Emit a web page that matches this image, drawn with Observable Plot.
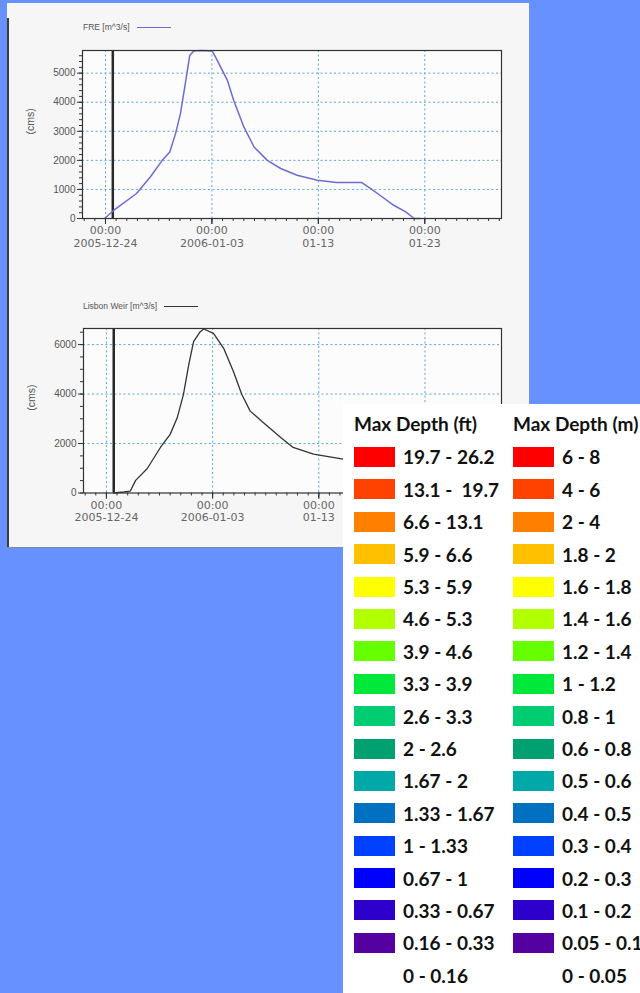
<!DOCTYPE html>
<html><head><meta charset="utf-8">
<script src="https://cdn.jsdelivr.net/npm/d3@7"></script>
<script src="https://cdn.jsdelivr.net/npm/@observablehq/plot@0.6"></script>
<style>
html,body{margin:0;padding:0;background:#6691ff;}
#stage{position:relative;width:640px;height:993px;overflow:hidden;background:#6691ff;}
#panel{position:absolute;left:7px;top:3px;width:522px;height:545px;background:#f6f6f6;}
#panelEdge{position:absolute;left:7px;top:18px;width:2px;height:530px;background:#3c3c3c;}
#panelBottom{position:absolute;left:7px;top:547px;width:522px;height:1px;background:#7a8aa8;}
.chart{position:absolute;left:0;}
.serLegend{position:absolute;left:83px;height:12px;line-height:12px;font:8.5px "Liberation Sans",Arial,sans-serif;color:#555;display:flex;align-items:center;gap:7px;white-space:nowrap;}
.serLegend .ln{display:inline-block;width:34px;height:0;border-top:1.3px solid;}
#legendPanel{position:absolute;left:343px;top:404px;width:297px;height:589px;background:#fff;overflow:hidden;}
.col{position:absolute;top:4px;}
.colTitle{font:700 19px Lato,sans-serif;color:#111;height:32.8px;line-height:32.8px;white-space:nowrap;}
.depth-swatches{margin:0 !important;font:700 19px Lato,sans-serif !important;color:#111;}
.depth-swatch{height:32.4px;padding:0 !important;display:flex;align-items:center;}
.depth-swatch > svg{margin-right:8px !important;}
.depth-swatch-label{white-space:pre !important;overflow:visible !important;text-overflow:clip !important;}
</style></head>
<body>
<div id="stage">
  <div id="panel"></div>
  <div id="panelEdge"></div>
  <div id="panelBottom"></div>
  <div id="chartTop" class="chart" style="top:0px"></div>
  <div id="chartBottom" class="chart" style="top:280px"></div>
  <div class="serLegend" style="top:21px"><span id="lgTop"></span><span class="ln" style="border-color:#6c6cd4"></span></div>
  <div class="serLegend" style="top:300px"><span id="lgBottom"></span><span class="ln" style="border-color:#333"></span></div>
  <div id="legendPanel">
    <div class="col" id="colFt" style="left:11px"></div>
    <div class="col" id="colM" style="left:170px"></div>
  </div>
</div>
<script>
// ---------- data ----------
const freDates = ["2005-12-23T22:00","2005-12-24T19:00","2005-12-26T22:00","2005-12-28T05:00","2005-12-29T08:00","2005-12-30T01:00","2005-12-30T14:00","2005-12-31T01:00","2005-12-31T12:00","2005-12-31T22:00","2006-01-01T07:00","2006-01-01T22:00","2006-01-03T01:00","2006-01-03T12:00","2006-01-04T11:00","2006-01-05T01:00","2006-01-06T00:00","2006-01-06T23:00","2006-01-08T05:00","2006-01-09T11:00","2006-01-11T00:00","2006-01-12T22:00","2006-01-14T17:00","2006-01-17T02:00","2006-01-17T22:00","2006-01-18T19:00","2006-01-20T02:00","2006-01-21T05:00","2006-01-22T00:00","2006-01-22T14:00"];
const freValues = [0,285,860,1430,2000,2290,2920,3610,4640,5610,5760,5780,5760,5440,4750,4065,3150,2460,2000,1720,1490,1315,1235,1235,1030,800,455,225,0,0];

const lisbonDates = ["2005-12-24T16:00","2005-12-25T15:00","2005-12-26T06:00","2005-12-26T18:00","2005-12-27T20:00","2005-12-29T02:00","2005-12-30T00:00","2005-12-30T16:00","2005-12-31T06:00","2005-12-31T18:00","2006-01-01T05:00","2006-01-01T20:00","2006-01-02T04:00","2006-01-03T02:00","2006-01-04T01:00","2006-01-04T23:00","2006-01-05T18:00","2006-01-06T13:00","2006-01-07T19:00","2006-01-09T10:00","2006-01-10T14:00","2006-01-12T12:00","2006-01-15T07:00","2006-01-17T00:00"];
const lisbonValues = [0,40,80,510,980,1840,2370,3040,3980,5180,6120,6520,6630,6450,5850,4910,3980,3310,2840,2240,1840,1570,1370,1300];

const xDomainDates = ["2005-12-21T20:10","2006-01-30T05:00"];
const xTickDates = ["2005-12-24T00:00","2006-01-03T00:00","2006-01-13T00:00","2006-01-23T00:00"];
const xTickLabels = ["00:00\n2005-12-24","00:00\n2006-01-03","00:00\n01-13","00:00\n01-23"];
const bottomLabelCount = 3; // the 4th label of the lower chart lies under the legend panel
const markerDate = "2005-12-24T16:30";

const topYTicks = [0,1000,2000,3000,4000,5000];
const bottomYTicks = [0,2000,4000,6000];
const topYMax = 5780;
const bottomYMax = 6650;

const seriesNames = ["FRE [m^3/s]","Lisbon Weir [m^3/s]"];
const yLabel = "(cms)";

const legendTitles = ["Max Depth (ft)","Max Depth (m)"];
const ftLabels = ["19.7 - 26.2","13.1 -  19.7","6.6 - 13.1","5.9 - 6.6","5.3 - 5.9","4.6 - 5.3","3.9 - 4.6","3.3 - 3.9","2.6 - 3.3","2 - 2.6","1.67 - 2","1.33 - 1.67","1 - 1.33","0.67 - 1","0.33 - 0.67","0.16 - 0.33","0 - 0.16"];
const mLabels = ["6 - 8","4 - 6","2 - 4","1.8 - 2","1.6 - 1.8","1.4 - 1.6","1.2 - 1.4","1 - 1.2","0.8 - 1","0.6 - 0.8","0.5 - 0.6","0.4 - 0.5","0.3 - 0.4","0.2 - 0.3","0.1 - 0.2","0.05 - 0.1","0 - 0.05"];
const depthColors = ["#ff0000","#ff4200","#ff8000","#ffc000","#ffff00","#b2ff00","#66ff00","#00e83a","#00cc72","#00a070","#00a8a8","#0070c0","#0040ff","#0000ff","#2e00cc","#5500a0","#ffffff"];

// ---------- build ----------
const utc = s => new Date(s + "Z");
const fre = freDates.map((d, i) => ({date: utc(d), value: freValues[i]}));
const lisbon = lisbonDates.map((d, i) => ({date: utc(d), value: lisbonValues[i]}));
const xDomain = xDomainDates.map(utc);
const xMajor = xTickDates.map(utc);
const labelMap = new Map(xMajor.map((d, i) => [+d, xTickLabels[i]]));
const minorDays = d3.utcDay.range(utc("2005-12-22T00:00"), utc("2006-01-30T06:00"));
const gridColor = "#5aa6e6";

function makeChart({data, yMax, yTicks, yStep, stroke, strokeWidth, height, marginTop, marginBottom, marginLeft, labelCount}) {
  const yMinor = d3.range(0, yMax, yStep);
  const labelled = xMajor.slice(0, labelCount);
  return Plot.plot({
    width: 529, height, marginLeft, marginRight: 28, marginTop, marginBottom,
    style: {background: "transparent", overflow: "visible", fontFamily: "'Liberation Sans', Arial, sans-serif"},
    x: {type: "utc", domain: xDomain},
    y: {domain: [0, yMax]},
    marks: [
      Plot.frame({fill: "#fcfcfc", stroke: null}),
      Plot.gridX({ticks: xMajor, stroke: gridColor, strokeOpacity: 1, strokeDasharray: "2,2.5", strokeWidth: 1}),
      Plot.gridY({ticks: yTicks.filter(v => v > 0), stroke: gridColor, strokeOpacity: 1, strokeDasharray: "2,2.5", strokeWidth: 1}),
      Plot.axisX({ticks: minorDays, tickSize: 3, tickFormat: () => "", stroke: "#333", label: null}),
      Plot.axisX({ticks: xMajor, tickSize: 6, tickFormat: () => "", stroke: "#333", label: null}),
      Plot.axisX({ticks: labelled, tickSize: 6, tickPadding: 1, tickFormat: d => labelMap.get(+d), stroke: "#333", fill: "#666", fontSize: 11, fontFamily: "'DejaVu Sans', sans-serif", lineHeight: 1.12, label: null}),
      Plot.axisY({ticks: yMinor, tickSize: 3, tickFormat: () => "", stroke: "#333", label: null}),
      Plot.axisY({ticks: yTicks, tickSize: 5, tickPadding: 2, tickFormat: d => String(d), stroke: "#333", fill: "#555", fontSize: 10, label: null}),
      Plot.text([yLabel], {text: d => d, frameAnchor: "left", rotate: -90, dx: -52, fontSize: 10.5, fill: "#555"}),
      Plot.ruleX([utc(markerDate)], {stroke: "#2a2a2a", strokeWidth: 2.5}),
      Plot.line(data, {x: "date", y: "value", stroke, strokeWidth}),
      Plot.frame({stroke: "#333", strokeWidth: 1.2})
    ]
  });
}

document.getElementById("chartTop").append(makeChart({
  data: fre, yMax: topYMax, yTicks: topYTicks, yStep: 200, stroke: "#6c6cd4", strokeWidth: 1.5,
  height: 262, marginTop: 50, marginBottom: 44, marginLeft: 82, labelCount: xMajor.length
}));
document.getElementById("chartBottom").append(makeChart({
  data: lisbon, yMax: bottomYMax, yTicks: bottomYTicks, yStep: 500, stroke: "#333", strokeWidth: 1.3,
  height: 268, marginTop: 48, marginBottom: 55.5, marginLeft: 83, labelCount: bottomLabelCount
}));
document.getElementById("lgTop").textContent = seriesNames[0];
document.getElementById("lgBottom").textContent = seriesNames[1];

function depthLegend(el, title, labels) {
  const t = document.createElement("div");
  t.className = "colTitle";
  t.textContent = title;
  el.append(t);
  el.append(Plot.legend({
    color: {type: "ordinal", domain: labels, range: depthColors},
    columns: 1, swatchWidth: 41, swatchHeight: 20, className: "depth", width: 400
  }));
}
depthLegend(document.getElementById("colFt"), legendTitles[0], ftLabels);
depthLegend(document.getElementById("colM"), legendTitles[1], mLabels);
</script>
</body></html>
